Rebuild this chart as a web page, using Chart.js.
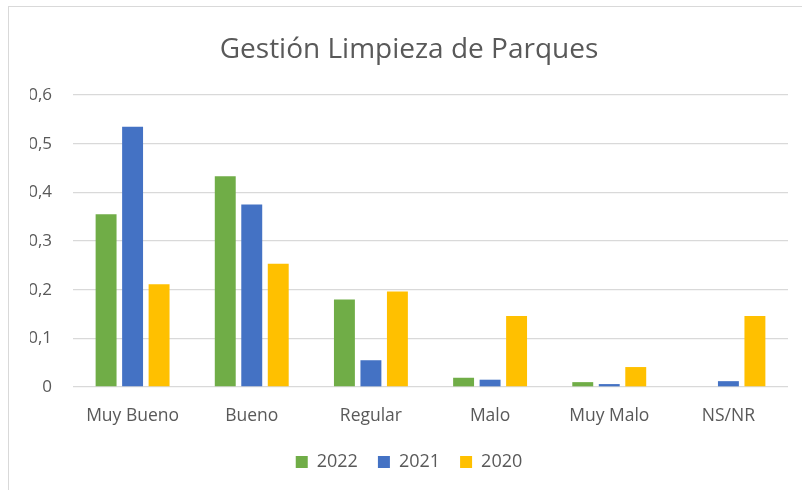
<!DOCTYPE html>
<html>
<head>
<meta charset="utf-8">
<script src="https://cdn.jsdelivr.net/npm/chart.js@4.4.0/dist/chart.umd.min.js"></script>
<style>
    html, body { margin: 0; padding: 0; background: #fff; overflow: hidden; }
    #frame { position: absolute; left: 8px; top: 6px; width: 900px; height: 600px; border: 1px solid #d9d9d9; }
    #wrap { position: absolute; left: 0; top: 0; width: 802px; height: 490px; }
</style>
</head>
<body>
<div id="frame"></div>
<div id="wrap"><canvas id="chart"></canvas></div>
<script>
// Data
const categories = ['Muy Bueno', 'Bueno', 'Regular', 'Malo', 'Muy Malo', 'NS/NR'];
const years = ['2022', '2021', '2020'];
const values2022 = [0.355, 0.433, 0.180, 0.019, 0.010, 0];
const values2021 = [0.535, 0.375, 0.055, 0.015, 0.006, 0.012];
const values2020 = [0.211, 0.253, 0.196, 0.146, 0.041, 0.146];
const yTicks = [0, 0.1, 0.2, 0.3, 0.4, 0.5, 0.6];

// Colors
const green = '#70AD47';
const blue = '#4472C4';
const yellow = '#FFC000';
const textColor = '#595959';
const gridColor = '#d9d9d9';
const fontFamily = "'Open Sans', sans-serif";

const seriesValues = [values2022, values2021, values2020];
const seriesColors = [green, blue, yellow];

const ctx = document.getElementById('chart').getContext('2d');

new Chart(ctx, {
    type: 'bar',
    data: {
        labels: categories,
        datasets: years.map((y, i) => ({
            label: y,
            data: seriesValues[i],
            backgroundColor: seriesColors[i],
            borderWidth: 0,
            categoryPercentage: 0.667,
            barPercentage: 0.79
        }))
    },
    options: {
        responsive: true,
        maintainAspectRatio: false,
        animation: false,
        layout: { padding: { left: 30, right: 14, top: 0, bottom: 9 } },
        plugins: {
            title: {
                display: true,
                text: 'Gestión Limpieza de Parques',
                color: textColor,
                font: { family: fontFamily, size: 28, weight: 'normal' },
                padding: { top: 33, bottom: 28.4 }
            },
            legend: {
                position: 'bottom',
                labels: {
                    color: textColor,
                    font: { family: fontFamily, size: 18 },
                    boxWidth: 12,
                    boxHeight: 12,
                    padding: 20
                }
            },
            tooltip: { enabled: false }
        },
        scales: {
            x: {
                grid: { display: false },
                border: { display: false },
                ticks: { color: textColor, font: { family: fontFamily, size: 17.5 }, padding: 11, maxRotation: 0 },
                afterFit: s => { s.height = 46; }
            },
            y: {
                min: 0,
                max: 0.6,
                afterBuildTicks: s => { s.ticks = yTicks.map(v => ({ value: v })); },
                grid: { color: gridColor, lineWidth: 1.3, drawTicks: false },
                border: { display: false },
                ticks: {
                    color: textColor,
                    font: { family: fontFamily, size: 17 },
                    padding: 21,
                    callback: v => String(Math.round(v * 10) / 10).replace('.', ',')
                },
                afterFit: s => { s.width = 43; }
            }
        }
    }
});
</script>
</body>
</html>
